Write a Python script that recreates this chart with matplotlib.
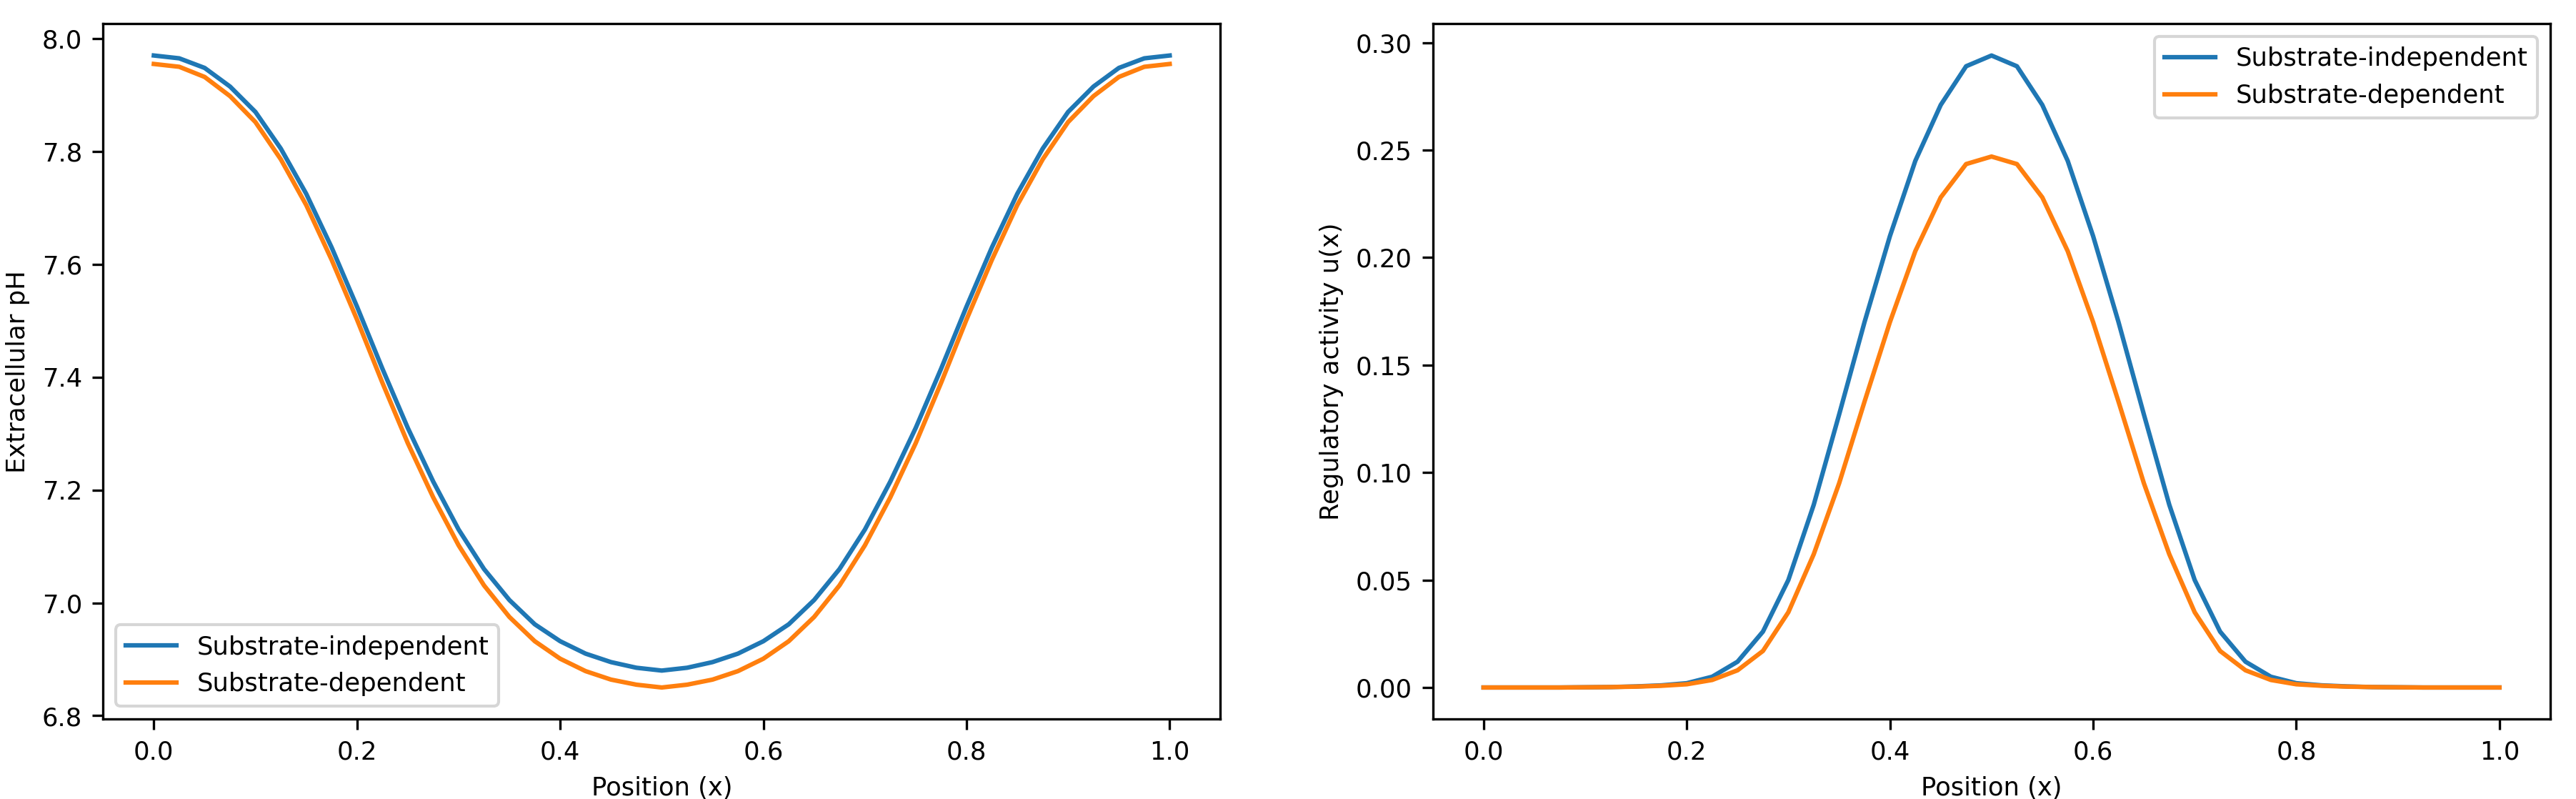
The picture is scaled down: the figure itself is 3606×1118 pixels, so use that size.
import matplotlib
matplotlib.use("Agg")
import matplotlib.pyplot as plt

plt.rcParams["font.size"] = 8.5

x = [i * 0.025 for i in range(41)]

# left half (0 .. 0.5), curves are symmetric around x=0.5
ph_indep_half = [7.970, 7.965, 7.948, 7.915, 7.870, 7.805, 7.725, 7.630, 7.525, 7.415, 7.310,
                 7.215, 7.130, 7.060, 7.005, 6.962, 6.932, 6.910, 6.895, 6.885, 6.880]
ph_dep_half = [7.955, 7.950, 7.932, 7.898, 7.852, 7.786, 7.705, 7.608, 7.502, 7.390, 7.283,
               7.187, 7.102, 7.031, 6.975, 6.932, 6.901, 6.879, 6.864, 6.855, 6.850]
u_indep_half = [0.0, 0.0, 0.0, 0.0, 0.0001, 0.0002, 0.0005, 0.001, 0.002, 0.005, 0.012,
                0.026, 0.050, 0.085, 0.127, 0.170, 0.210, 0.245, 0.271, 0.289, 0.294]
u_dep_half = [0.0, 0.0, 0.0, 0.0, 0.0001, 0.0002, 0.0004, 0.0008, 0.0015, 0.0035, 0.008,
              0.017, 0.035, 0.062, 0.095, 0.133, 0.170, 0.203, 0.228, 0.2435, 0.247]

ph_indep = ph_indep_half + ph_indep_half[-2::-1]
ph_dep = ph_dep_half + ph_dep_half[-2::-1]
u_indep = u_indep_half + u_indep_half[-2::-1]
u_dep = u_dep_half + u_dep_half[-2::-1]

fig, (ax1, ax2) = plt.subplots(1, 2, figsize=(12.02, 3.727), dpi=300)

ax1.plot(x, ph_indep, label="Substrate-independent")
ax1.plot(x, ph_dep, label="Substrate-dependent")
ax1.set_xlabel("Position (x)")
ax1.set_ylabel("Extracellular pH")
ax1.legend(loc="lower left")

ax2.plot(x, u_indep, label="Substrate-independent")
ax2.plot(x, u_dep, label="Substrate-dependent")
ax2.set_xlabel("Position (x)")
ax2.set_ylabel("Regulatory activity u(x)")
ax2.legend(loc="upper right")

plt.subplots_adjust(left=0.04, right=0.99, bottom=0.1, top=0.97, wspace=0.19)
fig.savefig("out.png")
